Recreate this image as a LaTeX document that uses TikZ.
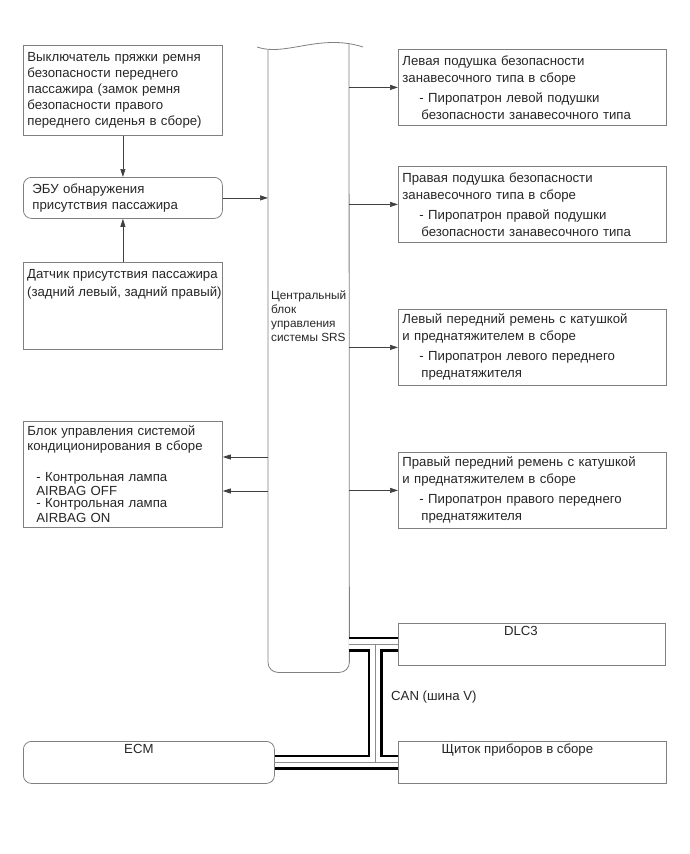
\documentclass[tikz,border=0pt]{standalone}
\usepackage{fontspec}
\setmainfont{Liberation Sans}
\usetikzlibrary{arrows.meta}
\begin{document}
\begin{tikzpicture}[x=1pt,y=-1pt,
  font=\fontsize{13.2}{16}\selectfont,
  blk/.style={draw=black!50, line width=0.8pt, inner xsep=4pt, inner ysep=0pt, align=left, anchor=north west, text=black!85},
  lbox/.style={blk, text width=191pt, minimum width=199pt},
  rbox/.style={blk, text width=260pt, minimum width=268pt, minimum height=76pt, font=\fontsize{13.2}{17}\selectfont},
  rnd/.style={rounded corners=8pt},
  toptext/.style={anchor=north, inner sep=0pt, text=black!85, yshift=-3pt},
  link/.style={draw=black!75, line width=0.7pt, -{Triangle[length=8pt,width=5pt]}}
]
\useasboundingbox (0,0) rectangle (690,854);

% central SRS block
\node[minimum width=81pt, minimum height=625pt, inner sep=0pt, anchor=north west] (srs) at (268,47) {};
\draw[draw=black!50, line width=0.8pt] (257,47) .. controls (285,57) and (320,33) .. (363,47);
\draw[draw=black!50, line width=0.8pt, rounded corners=10pt] (268,49.5) -- (srs.south west) -- (srs.south east) -- (349,43.6);
\node[anchor=west, align=left, text=black!85, inner sep=0pt, font=\fontsize{11.8}{14}\selectfont] (srstxt) at (271,316)
  {Центральный\\блок\\управления\\системы SRS};

% left side
\node[lbox, minimum height=90pt] (buckle) at (23,45)
  {Выключатель пряжки ремня\\безопасности переднего\\пассажира (замок ремня\\безопасности правого\\переднего сиденья в сборе)};
\node[lbox, rnd, minimum height=41pt, inner xsep=9pt, text width=181pt] (ecu) at (23,177)
  {ЭБУ обнаружения\\присутствия пассажира};
\node[lbox, minimum height=87pt,
  label={[anchor=north west, align=left, inner sep=0pt, text=black!85, xshift=4pt, yshift=-7pt, font=\fontsize{13.2}{18}\selectfont]north west:{Датчик присутствия пассажира\\(задний левый, задний правый)}}] (sensor) at (23,262) {};
\node[lbox, minimum height=106pt] (ac) at (23,421)
  {Блок управления системой\\[-1pt]кондиционирования в сборе\\[15pt]\hspace*{9pt}- Контрольная лампа\\[-2pt]\hspace*{9pt}AIRBAG OFF\\[-4pt]\hspace*{9pt}- Контрольная лампа\\[-1pt]\hspace*{9pt}AIRBAG ON};
\node[blk, rnd, minimum width=251pt, minimum height=42pt, label={[toptext, xshift=-10pt]north:ECM}] (ecm) at (23,741) {};

% right side
\node[rbox] (curtl) at (398,49)
  {Левая подушка безопасности\\занавесочного типа в сборе\\[3pt]\hspace*{17pt}- Пиропатрон левой подушки\\\hspace*{19pt}безопасности занавесочного типа};
\node[rbox] (curtr) at (398,166)
  {Правая подушка безопасности\\занавесочного типа в сборе\\[3pt]\hspace*{17pt}- Пиропатрон правой подушки\\\hspace*{19pt}безопасности занавесочного типа};
\node[rbox] (beltl) at (398,309)
  {Левый передний ремень с катушкой\\и преднатяжителем в сборе\\[3pt]\hspace*{17pt}- Пиропатрон левого переднего\\\hspace*{19pt}преднатяжителя};
\node[rbox] (beltr) at (398,452)
  {Правый передний ремень с катушкой\\и преднатяжителем в сборе\\[3pt]\hspace*{17pt}- Пиропатрон правого переднего\\\hspace*{19pt}преднатяжителя};
\node[blk, minimum width=267pt, minimum height=42pt, label={[toptext, xshift=-11pt]north:DLC3}] (dlc) at (398,623) {};
\node[blk, minimum width=268pt, minimum height=42pt, label={[toptext, xshift=-15pt]north:Щиток приборов в сборе}] (clus) at (398,741) {};

% arrows
\draw[link] (buckle.south) -- (ecu.north);
\draw[link] (sensor.north) -- (ecu.south);
\draw[link] (ecu.east) -- (ecu.east -| srs.west);
\draw[link] (srs.east |- curtl.west) -- (curtl.west);
\draw[link] (srs.east |- curtr.west) -- (curtr.west);
\draw[link] (srs.east |- beltl.west) -- (beltl.west);
\draw[link] (srs.east |- beltr.west) -- (beltr.west);
\coordinate (acup) at ([yshift=-36pt]ac.north east);
\coordinate (acdn) at ([yshift=-70pt]ac.north east);
\draw[link] (srs.west |- acup) -- (acup);
\draw[link] (srs.west |- acdn) -- (acdn);

% CAN bus
\coordinate (cantop) at ([xshift=-23pt]dlc.west);
\coordinate (canbot) at ([xshift=-23pt]clus.west);
\draw[line width=15pt] (srs.east |- dlc.west) -- (dlc.west) (ecm.east) -- (clus.west) (cantop) -- (canbot);
\draw[white, line width=10pt] (srs.east |- dlc.west) -- (dlc.west) (ecm.east) -- (clus.west) (cantop) -- (canbot);
\draw[black!45, line width=0.7pt] (srs.east |- dlc.west) -- (dlc.west) (ecm.east) -- (clus.west) (cantop) -- (canbot);
\node[anchor=west, inner sep=0pt, text=black!85] (canlbl) at (391,697) {CAN (шина V)};
\end{tikzpicture}
\end{document}
